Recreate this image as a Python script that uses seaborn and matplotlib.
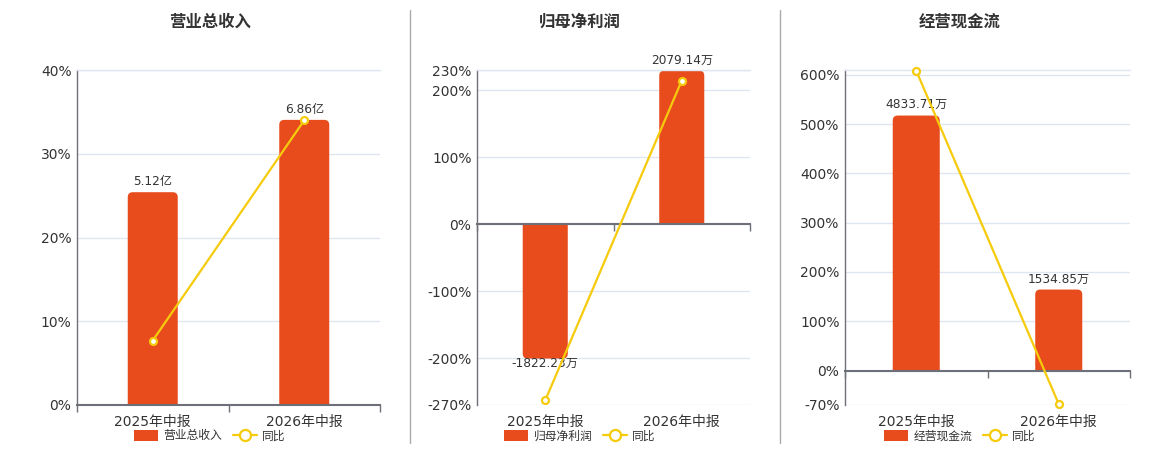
import numpy as np
import pandas as pd
import matplotlib
matplotlib.use('Agg')
import matplotlib.pyplot as plt
from matplotlib.patches import Patch, PathPatch
from matplotlib.lines import Line2D
from matplotlib.path import Path
import seaborn as sns

# Data
periods = ['2025年中报', '2026年中报']
titles = ['营业总收入', '归母净利润', '经营现金流']
units = ['亿', '万', '万']
revenue = [5.12, 6.86]
net_profit = [-1822.23, 2079.14]
cash_flow = [4833.71, 1534.85]
revenue_yoy = [7.7, 34.0]
net_profit_yoy = [-263.0, 214.1]
cash_flow_yoy = [608.5, -68.2]

pct_ranges = [(0, 40), (-270, 230), (-70, 610)]
pct_ticks = [[0, 10, 20, 30, 40],
             [-270, -200, -100, 0, 100, 200, 230],
             [-70, 0, 100, 200, 300, 400, 500, 600]]
# bar units per 1% (hidden bar axis)
bar_scales = [0.2015, 9.08, 9.34]

values = [revenue, net_profit, cash_flow]
yoys = [revenue_yoy, net_profit_yoy, cash_flow_yoy]

BAR = '#E84C1D'
LINE = '#F5CB0C'
AXIS = '#6E7079'
GRID = '#E0E6F1'
TEXT = '#333333'

# layout in pixels
W, H = 1160, 450
axes_px = [(77, 380), (477, 750), (845, 1130)]
top_px, bottom_px = 70, 405
centers_px = [210, 580, 960]
corner_px = 5


def round_far_end(ax, rect, r_px):
    # redraw a bar with rounded corners at its far end (away from zero)
    bbox = ax.get_window_extent()
    x_lo, x_hi = ax.get_xlim()
    y_lo, y_hi = ax.get_ylim()
    rx = r_px * (x_hi - x_lo) / bbox.width
    ry = r_px * (y_hi - y_lo) / bbox.height
    l, w = rect.get_x(), rect.get_width()
    near, h = rect.get_y(), rect.get_height()
    far = near + h
    s = 1 if h >= 0 else -1
    ry = min(ry, abs(h))
    r = l + w
    verts = [(l, near), (l, far - s * ry), (l, far), (l + rx, far),
             (r - rx, far), (r, far), (r, far - s * ry), (r, near), (l, near)]
    codes = [Path.MOVETO, Path.LINETO, Path.CURVE3, Path.CURVE3,
             Path.LINETO, Path.CURVE3, Path.CURVE3, Path.LINETO, Path.CLOSEPOLY]
    ax.add_patch(PathPatch(Path(verts, codes), facecolor=rect.get_facecolor(),
                           edgecolor='none', zorder=rect.get_zorder()))
    rect.set_visible(False)


sns.set_theme(style='white')
plt.rcParams['font.family'] = ['DejaVu Sans', 'Noto Sans CJK SC']

fig = plt.figure(figsize=(W / 100, H / 100), dpi=100)

for i in range(3):
    x0, x1 = axes_px[i]
    ax = fig.add_axes([x0 / W, 1 - bottom_px / H, (x1 - x0) / W, (bottom_px - top_px) / H])
    lo, hi = pct_ranges[i]
    k = bar_scales[i]
    df = pd.DataFrame({'period': periods, 'value': values[i]})

    sns.barplot(data=df, x='period', y='value', ax=ax, color=BAR, width=0.33,
                saturation=1, errorbar=None, linewidth=0)
    bars = ax.containers[0]
    pos_labels = [f'{v:.2f}{units[i]}' if v >= 0 else '' for v in values[i]]
    neg_labels = [f'{v:.2f}{units[i]}' if v < 0 else '' for v in values[i]]
    ax.bar_label(bars, labels=pos_labels, padding=3, fontsize=8.7, color=TEXT)
    ax.bar_label(bars, labels=neg_labels, padding=-1, fontsize=8.7, color=TEXT)

    ax.set_ylim(lo * k, hi * k)
    ax.set_xlim(-0.5, 1.5)
    ax.set_yticks([t * k for t in pct_ticks[i]])
    ax.set_yticklabels([f'{t}%' for t in pct_ticks[i]])
    ax.set_xlabel('')
    ax.set_ylabel('')
    ax.yaxis.grid(True, color=GRID, lw=1)
    ax.xaxis.grid(False)
    ax.set_axisbelow(True)
    ax.tick_params(axis='y', length=0, labelsize=10, labelcolor=TEXT, pad=4)
    ax.tick_params(axis='x', length=0, labelsize=10, labelcolor=TEXT, pad=7)
    ax.spines['left'].set_color(AXIS)
    ax.spines['left'].set_linewidth(1)
    ax.spines['top'].set_color(GRID)
    ax.spines['top'].set_linewidth(1)
    ax.spines['right'].set_visible(False)
    ax.spines['bottom'].set_visible(False)

    for rect in bars:
        round_far_end(ax, rect, corner_px)

    # zero axis line with ticks at category boundaries
    zero_frac = (0 - lo) / (hi - lo)
    sec = ax.secondary_xaxis(zero_frac)
    sec.set_alignment('bottom')
    sec.set_xticks([-0.5, 0.5, 1.5])
    sec.set_xticklabels([])
    sec.tick_params(length=5, color=AXIS, width=1)
    sec.spines['bottom'].set_color(AXIS)
    sec.spines['bottom'].set_linewidth(1.5)
    sec.set_zorder(5)

    # yoy line on the percent scale
    ax2 = ax.twinx()
    sns.lineplot(x=np.arange(len(periods)), y=yoys[i], ax=ax2, color=LINE, lw=1.6,
                 marker='o', markersize=5, markerfacecolor='white',
                 markeredgecolor=LINE, markeredgewidth=1.6, clip_on=False)
    ax2.set_ylim(lo, hi)
    ax2.set_axis_off()
    ax.set_xlim(-0.5, 1.5)

    fig.text(centers_px[i] / W, 1 - 22 / H, titles[i], ha='center', va='center',
             fontsize=11.8, fontweight='bold', color=TEXT)

    handles = [Patch(facecolor=BAR, edgecolor='none'),
               Line2D([0], [0], color=LINE, lw=1.6, marker='o', ms=8,
                      mfc='white', mec=LINE, mew=1.6)]
    fig.legend(handles, [titles[i], '同比'], loc='center',
               bbox_to_anchor=(centers_px[i] / W, 1 - 436 / H), ncol=2,
               frameon=False, fontsize=8.5, handlelength=2.0, handleheight=1.1,
               columnspacing=0.9, handletextpad=0.5, labelcolor=TEXT)

# panel separators
for xs in [410, 780]:
    fig.add_artist(Line2D([xs / W, xs / W], [1 - 443 / H, 1 - 10 / H],
                          transform=fig.transFigure, color='#AAAAAA', lw=1))

fig.savefig('out.png', dpi=100, facecolor='white')
